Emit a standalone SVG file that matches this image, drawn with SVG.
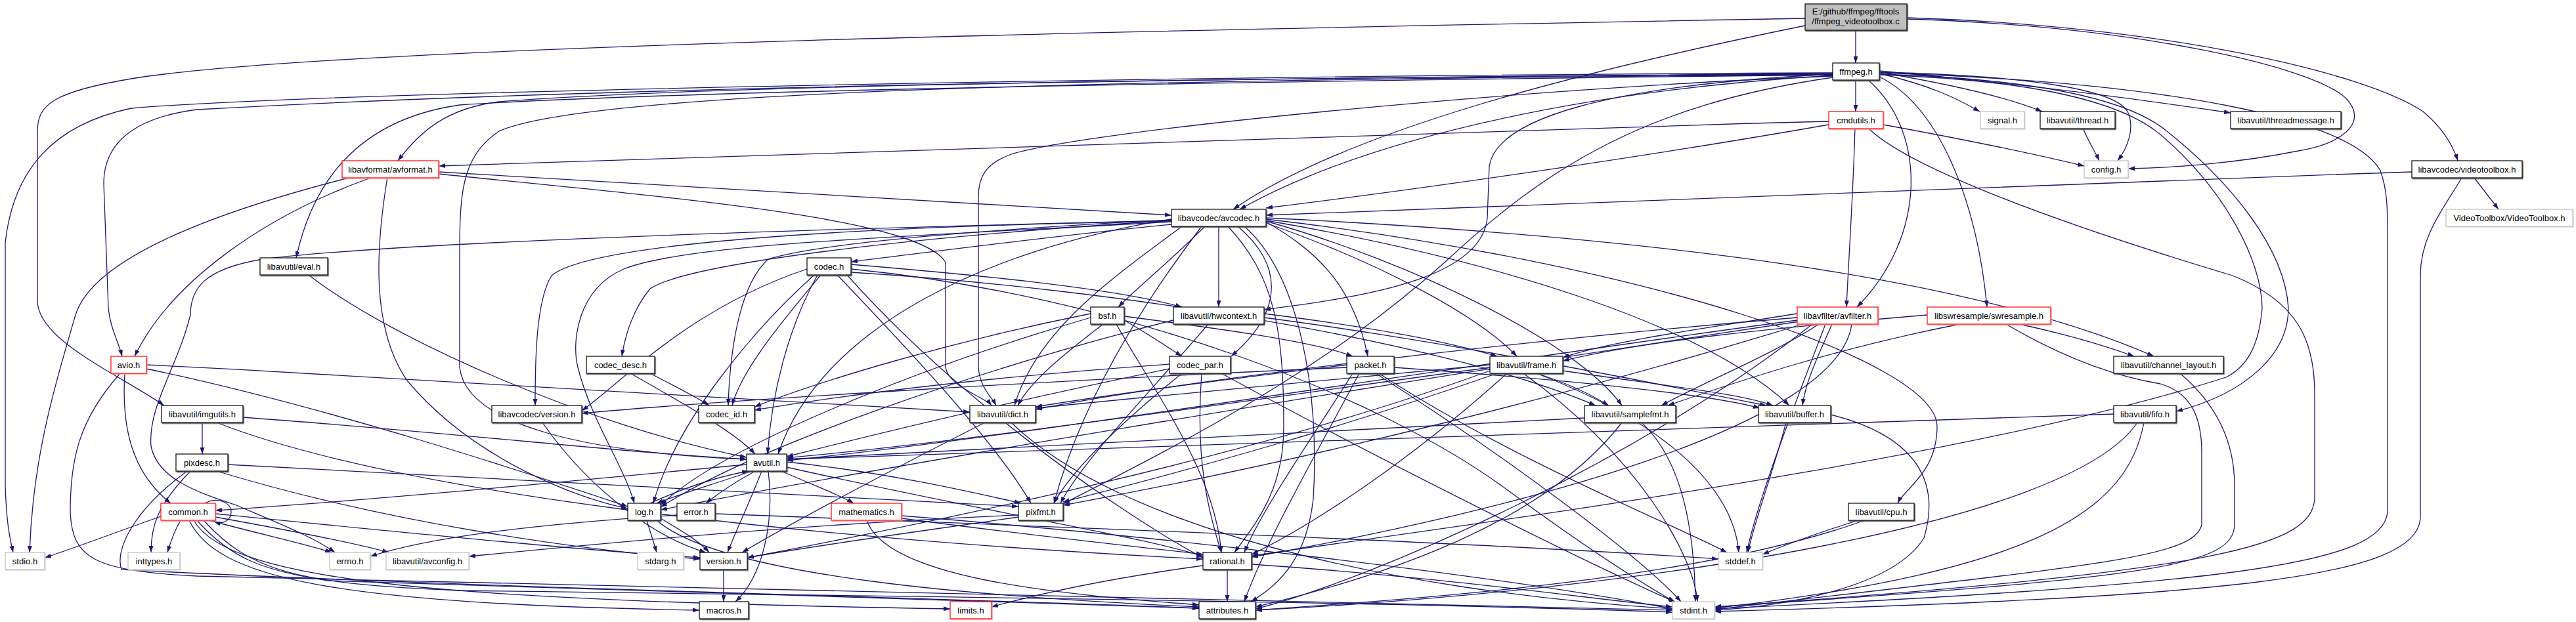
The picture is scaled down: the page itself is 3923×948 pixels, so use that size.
<svg xmlns="http://www.w3.org/2000/svg" width="3923" height="948" viewBox="0 0 3923 948">
<style>
text{font-family:"Liberation Sans",Arial,sans-serif;font-size:13px;text-anchor:middle;fill:#000}
.n rect{fill:#fff;stroke:#000;stroke-width:1.2;filter:url(#sh)}
.r rect{stroke:#ff0000;filter:url(#shr)}
.g rect{stroke:#bfbfbf;filter:url(#shg)}
.s rect{fill:#bfbfbf}
#edges path{fill:none;stroke:#191970;stroke-width:1.3;marker-end:url(#ah)}
</style>
<defs>
<marker id="ah" viewBox="0 0 10 7" refX="10" refY="3.5" markerWidth="10" markerHeight="7" markerUnits="userSpaceOnUse" orient="auto"><path d="M0,0L10,3.5L0,7z" fill="#191970"/></marker>
<filter id="sh" x="-5%" y="-10%" width="115%" height="140%"><feDropShadow dx="1.2" dy="1.5" stdDeviation="0" flood-color="#555"/></filter>
<filter id="shr" x="-5%" y="-10%" width="115%" height="140%"><feDropShadow dx="1" dy="1.2" stdDeviation="0" flood-color="#ff8080"/></filter>
<filter id="shg" x="-5%" y="-10%" width="115%" height="140%"><feDropShadow dx="1" dy="1.2" stdDeviation="0" flood-color="#d8d8d8"/></filter>
</defs>
<rect width="3923" height="948" fill="#fff"/>
<g id="edges">
<path d="M2826 46L2826 96"/>
<path d="M2904 29C3250 40 3520 100 3573 150C3610 190 3560 220 3500 230C3400 250 3300 256 3241 257"/>
<path d="M2904 27C3300 40 3600 110 3690 170C3720 195 3735 220 3743 245"/>
<path d="M2749 39C2400 110 2050 200 1878 319"/>
<path d="M2749 28C1800 45 500 70 200 120C80 140 57 160 57 200L57 460C60 520 180 570 250 618"/>
<path d="M2826 121L2826 170"/>
<path d="M2862 112C2940 130 2980 150 3015 170"/>
<path d="M2862 110C2950 125 3050 145 3110 170"/>
<path d="M2862 108C3050 125 3250 150 3397 172"/>
<path d="M2862 110C3080 115 3220 135 3240 170C3252 195 3240 225 3225 245"/>
<path d="M2791 112C2000 118 1100 128 760 155C680 165 640 200 606 245"/>
<path d="M2791 113C2000 118 1000 128 300 167C200 180 158 220 158 280L165 470C168 500 180 520 186 543"/>
<path d="M2791 115C2450 135 2100 200 1888 319"/>
<path d="M2844 121C2935 200 2935 360 2828 468"/>
<path d="M2791 114C1800 120 900 135 760 200C700 240 700 300 700 400L700 560C710 650 900 690 1137 700"/>
<path d="M2791 116C2300 135 1650 200 1540 235C1500 250 1490 270 1490 300L1490 560C1492 590 1510 605 1517 618"/>
<path d="M2791 114C1800 125 1000 140 700 160C560 180 480 260 451 393"/>
<path d="M2862 113C3100 120 3240 150 3300 200C3400 280 3480 380 3485 470C3485 540 3420 600 3314 627"/>
<path d="M2791 113C2450 130 2280 180 2268 253L2265 333C2255 420 2100 450 1925 472"/>
<path d="M2791 118C2500 160 2350 260 2200 400C2000 580 1750 700 1619 768"/>
<path d="M2862 114C3100 122 3230 155 3290 205C3390 290 3445 400 3445 470C3440 530 3420 560 3390 575C3000 700 2300 790 1906 847"/>
<path d="M2862 117C2950 160 3010 300 3026 468"/>
<path d="M2862 111C3300 125 3580 180 3625 260C3636 290 3636 320 3636 360L3636 780C3630 860 3400 890 2611 928"/>
<path d="M2791 111C1800 115 500 140 200 165C80 190 20 260 8 370L8 740C10 800 15 820 20 842"/>
<path d="M2868 190C2950 205 3080 230 3174 253"/>
<path d="M2785 185C2000 205 1200 230 668 253"/>
<path d="M2785 190C2500 240 2150 290 1928 317"/>
<path d="M2825 195C2822 300 2815 400 2812 468"/>
<path d="M2845 195C2900 250 3100 330 3400 420C3500 460 3525 520 3525 600L3525 760C3520 830 3400 870 2611 925"/>
<path d="M3172 195C3180 215 3190 230 3197 245"/>
<path d="M668 262C1100 290 1500 310 1784 328"/>
<path d="M567 270C400 330 260 430 205 543"/>
<path d="M668 265C1000 300 1400 330 1440 400L1440 560C1445 590 1500 605 1510 618"/>
<path d="M590 270C572 380 565 500 620 580C720 700 880 760 956 775"/>
<path d="M535 270C300 330 140 400 115 480C80 600 50 700 45 842"/>
<path d="M3673 262C3000 285 2300 310 1928 328"/>
<path d="M3768 271L3805 319"/>
<path d="M3749 271C3720 320 3686 360 3686 420L3686 790C3680 880 3400 910 2611 932"/>
<path d="M1784 336C1200 350 600 370 400 395C310 410 290 440 290 480C270 560 225 620 230 680C240 730 300 750 360 770C430 800 480 820 510 842"/>
<path d="M1928 337C2150 400 2400 520 2470 618"/>
<path d="M1895 345C1980 420 2010 600 2000 760C1990 850 1950 890 1905 917"/>
<path d="M1784 334C1500 380 1250 500 1185 692"/>
<path d="M1928 336C2300 400 2600 500 2725 618"/>
<path d="M1928 334C2500 400 2950 550 2950 650C2950 720 2900 745 2890 767"/>
<path d="M1928 332C2500 360 3000 420 3280 543"/>
<path d="M1800 345C1700 420 1580 500 1545 618"/>
<path d="M1928 340C2100 400 2250 480 2310 543"/>
<path d="M1856 345L1856 468"/>
<path d="M1784 338C1400 360 1050 370 950 410C880 440 870 520 880 560C900 640 950 710 966 767"/>
<path d="M1830 345C1750 450 1650 600 1605 767"/>
<path d="M1870 345C1940 420 1955 500 1955 650C1955 750 1910 800 1880 842"/>
<path d="M1835 345C1780 400 1730 440 1703 468"/>
<path d="M1784 342C1600 360 1450 380 1296 399"/>
<path d="M1784 336C1400 360 1050 400 990 440C965 470 952 510 947 543"/>
<path d="M1885 345C1950 400 1960 470 1875 543"/>
<path d="M1784 335C1500 350 1250 370 1170 395C1130 430 1112 520 1109 618"/>
<path d="M1928 338C2000 380 2060 430 2083 543"/>
<path d="M1784 337C1300 345 900 370 840 420C815 460 815 560 815 618"/>
<path d="M470 419C600 520 900 650 1137 697"/>
<path d="M1296 410C1700 450 2100 600 2300 750C2450 860 2520 900 2550 917"/>
<path d="M1245 419C1200 500 1175 600 1169 692"/>
<path d="M1296 403C1500 420 1700 440 1800 468"/>
<path d="M1240 419C1150 500 1030 640 995 767"/>
<path d="M1275 419C1400 550 1520 680 1570 767"/>
<path d="M1290 419C1450 600 1700 780 1832 850"/>
<path d="M1296 415C1700 440 2200 520 2430 618"/>
<path d="M1250 419C1200 480 1130 560 1115 618"/>
<path d="M1229 410C1050 470 950 580 886 626"/>
<path d="M1680 494C1620 540 1570 580 1550 618"/>
<path d="M1661 484C1400 560 1100 680 1006 770"/>
<path d="M1700 494C1760 600 1850 720 1860 842"/>
<path d="M1661 478C1450 520 1250 580 1149 620"/>
<path d="M1712 488C1750 510 1780 530 1800 543"/>
<path d="M1712 482C1850 500 2000 520 2060 543"/>
<path d="M1925 484C2200 520 2500 580 2690 618"/>
<path d="M1925 478C2100 500 2200 520 2280 543"/>
<path d="M1787 488C1500 560 1150 680 1006 773"/>
<path d="M1840 494C1750 600 1650 700 1615 767"/>
<path d="M2780 494C2740 600 2680 750 2660 842"/>
<path d="M2760 494C2500 700 2100 880 1912 928"/>
<path d="M2737 488C2200 560 1600 660 1198 702"/>
<path d="M2790 494C2770 540 2750 580 2745 618"/>
<path d="M2737 484C2300 520 1800 580 1577 624"/>
<path d="M2737 478C2600 500 2450 520 2380 545"/>
<path d="M2740 490C2000 600 1300 720 1006 777"/>
<path d="M2770 494C2700 540 2600 580 2530 618"/>
<path d="M2745 494C2400 600 2000 700 1619 770"/>
<path d="M2820 494C2800 650 2300 780 1906 849"/>
<path d="M3055 494C3150 550 3230 575 3290 585C3340 600 3353 640 3353 690L3353 800C3340 850 3200 860 2611 929"/>
<path d="M3075 494C3150 510 3200 525 3250 543"/>
<path d="M2935 480C2700 500 2500 520 2380 550"/>
<path d="M2985 494C2800 530 2650 580 2540 618"/>
<path d="M183 569C120 640 107 700 107 780C110 850 140 870 300 878C1200 900 2000 915 2547 930"/>
<path d="M190 569C185 650 200 720 260 767"/>
<path d="M223 556C700 580 1200 610 1477 628"/>
<path d="M223 562C500 620 800 720 956 772"/>
<path d="M960 569C1050 620 1120 660 1150 692"/>
<path d="M990 569C1030 590 1060 605 1080 618"/>
<path d="M1860 569C2100 700 2400 850 2552 918"/>
<path d="M1781 562C1500 620 1300 670 1198 696"/>
<path d="M1830 569C1820 700 1840 780 1860 842"/>
<path d="M1800 569C1700 650 1630 720 1605 767"/>
<path d="M1781 555C1500 575 1300 600 1149 625"/>
<path d="M2100 569C2300 700 2550 800 2630 842"/>
<path d="M2095 569C2300 700 2500 850 2560 917"/>
<path d="M2070 569C2000 700 1930 820 1895 917"/>
<path d="M2123 560C2400 580 2600 600 2680 622"/>
<path d="M2051 556C1850 580 1700 600 1577 620"/>
<path d="M2060 569C1990 680 1920 780 1895 842"/>
<path d="M2051 560C1600 580 1100 610 886 630"/>
<path d="M2340 569C2550 650 2640 750 2648 842"/>
<path d="M2320 569C2500 700 2580 850 2585 917"/>
<path d="M2269 560C1900 610 1500 670 1198 698"/>
<path d="M2380 565C2550 590 2650 600 2700 618"/>
<path d="M2269 556C2000 580 1800 600 1577 622"/>
<path d="M2295 569C2150 700 2000 800 1906 845"/>
<path d="M2340 569C2390 585 2420 600 2450 618"/>
<path d="M2280 569C2050 650 1800 720 1619 765"/>
<path d="M2269 565C1900 700 1400 800 1138 850"/>
<path d="M3320 569C3380 620 3403 680 3403 740L3403 800C3400 860 3300 880 2611 925"/>
<path d="M308 644L308 692"/>
<path d="M370 636C700 660 950 690 1137 700"/>
<path d="M330 644C600 750 1200 820 1832 852"/>
<path d="M826 644C900 750 1000 820 1075 842"/>
<path d="M1540 644C1700 800 2100 900 2547 928"/>
<path d="M1500 644C1350 720 1200 800 1130 842"/>
<path d="M2500 644C2560 700 2580 800 2582 917"/>
<path d="M2413 637C1900 660 1500 685 1198 700"/>
<path d="M2470 644C2350 800 2100 880 1912 925"/>
<path d="M2720 644C2700 720 2670 800 2662 842"/>
<path d="M2788 632C2900 660 2960 720 2930 820C2880 900 2700 925 2611 930"/>
<path d="M3265 644C3240 780 3100 870 2611 927"/>
<path d="M3219 631C2500 650 1800 680 1198 700"/>
<path d="M3255 644C3150 800 2500 900 1912 930"/>
<path d="M290 718C240 770 230 800 230 842"/>
<path d="M285 718C200 780 175 840 185 868C700 895 1400 910 1826 927"/>
<path d="M347 708C800 730 1200 750 1551 772"/>
<path d="M330 718C600 800 900 840 1066 852"/>
<path d="M1137 708C900 730 600 760 328 778"/>
<path d="M1150 718C1110 740 1090 755 1075 767"/>
<path d="M1198 712C1500 780 1750 820 1832 848"/>
<path d="M1160 718C1140 770 1120 810 1108 842"/>
<path d="M1170 718C1180 800 1160 880 1120 917"/>
<path d="M1190 718C1240 740 1280 755 1300 767"/>
<path d="M1145 718C1080 740 1030 755 1000 767"/>
<path d="M1198 704C1350 720 1480 750 1555 767"/>
<path d="M245 787C180 810 100 840 68 850"/>
<path d="M275 793C265 810 260 825 255 842"/>
<path d="M318 793C400 815 470 830 505 842"/>
<path d="M328 788C450 810 550 830 592 842"/>
<path d="M300 793C350 850 400 870 500 885C1000 905 1500 915 1826 927"/>
<path d="M288 793C330 880 500 920 1065 930"/>
<path d="M328 783C600 810 900 840 1066 850"/>
<path d="M295 793C350 890 700 915 1447 928"/>
<path d="M310 793C380 870 450 890 700 900C1500 910 2200 920 2547 933"/>
<path d="M312 767C330 757 352 765 352 780C352 793 340 800 326 795"/>
<path d="M985 793C990 810 995 825 1000 842"/>
<path d="M990 767C1050 740 1100 725 1140 718"/>
<path d="M1000 793C1100 880 1500 910 1826 925"/>
<path d="M1006 790C1040 810 1065 825 1080 842"/>
<path d="M1031 785C800 800 650 820 564 848"/>
<path d="M1089 783C1800 810 2300 830 2617 852"/>
<path d="M1373 786C1800 820 2300 880 2547 928"/>
<path d="M1320 793C1350 880 1600 905 1826 922"/>
<path d="M1373 790C1600 820 1750 835 1832 845"/>
<path d="M1551 785C1200 800 900 830 714 848"/>
<path d="M1551 788C1400 810 1250 830 1138 850"/>
<path d="M2830 793C2760 815 2720 830 2684 845"/>
<path d="M2840 793C2600 880 2200 910 1912 930"/>
<path d="M1102 868L1102 917"/>
<path d="M1906 860C2200 880 2400 910 2547 925"/>
<path d="M1832 862C1700 880 1600 900 1510 925"/>
<path d="M1869 868L1869 917"/>
</g>
<g id="n_src" class="n s"><rect x="2749" y="6" width="155" height="40"/><text x="2826" y="22">E:/github/ffmpeg/fftools</text><text x="2826" y="37">/ffmpeg_videotoolbox.c</text></g>
<g id="n_ffmpeg" class="n"><rect x="2791" y="96" width="71" height="26"/><text x="2826.5" y="113.5">ffmpeg.h</text></g>
<g id="n_cmdutils" class="n r"><rect x="2785" y="170" width="83" height="26"/><text x="2826.5" y="187.5">cmdutils.h</text></g>
<g id="n_signal" class="n g"><rect x="3016" y="170" width="67" height="26"/><text x="3049.5" y="187.5">signal.h</text></g>
<g id="n_thread" class="n"><rect x="3107" y="170" width="114" height="26"/><text x="3164" y="187.5">libavutil/thread.h</text></g>
<g id="n_threadmessage" class="n"><rect x="3397" y="170" width="168" height="26"/><text x="3481" y="187.5">libavutil/threadmessage.h</text></g>
<g id="n_avformat" class="n r"><rect x="521" y="245" width="147" height="26"/><text x="594.5" y="262.5">libavformat/avformat.h</text></g>
<g id="n_config" class="n g"><rect x="3174" y="245" width="67" height="26"/><text x="3207.5" y="262.5">config.h</text></g>
<g id="n_videotoolbox" class="n"><rect x="3673" y="245" width="168" height="26"/><text x="3757" y="262.5">libavcodec/videotoolbox.h</text></g>
<g id="n_avcodec" class="n"><rect x="1784" y="319" width="144" height="26"/><text x="1856" y="336.5">libavcodec/avcodec.h</text></g>
<g id="n_VideoToolbox" class="n g"><rect x="3725" y="319" width="193" height="26"/><text x="3821.5" y="336.5">VideoToolbox/VideoToolbox.h</text></g>
<g id="n_eval" class="n"><rect x="396" y="393" width="103" height="26"/><text x="447.5" y="410.5">libavutil/eval.h</text></g>
<g id="n_codec" class="n"><rect x="1229" y="393" width="67" height="26"/><text x="1262.5" y="410.5">codec.h</text></g>
<g id="n_bsf" class="n"><rect x="1661" y="468" width="51" height="26"/><text x="1686.5" y="485.5">bsf.h</text></g>
<g id="n_hwcontext" class="n"><rect x="1787" y="468" width="138" height="26"/><text x="1856" y="485.5">libavutil/hwcontext.h</text></g>
<g id="n_avfilter" class="n r"><rect x="2737" y="468" width="123" height="26"/><text x="2798.5" y="485.5">libavfilter/avfilter.h</text></g>
<g id="n_swresample" class="n r"><rect x="2935" y="468" width="188" height="26"/><text x="3029" y="485.5">libswresample/swresample.h</text></g>
<g id="n_avio" class="n r"><rect x="169" y="543" width="54" height="26"/><text x="196" y="560.5">avio.h</text></g>
<g id="n_codec_desc" class="n"><rect x="893" y="543" width="104" height="26"/><text x="945" y="560.5">codec_desc.h</text></g>
<g id="n_codec_par" class="n"><rect x="1781" y="543" width="93" height="26"/><text x="1827.5" y="560.5">codec_par.h</text></g>
<g id="n_packet" class="n"><rect x="2051" y="543" width="72" height="26"/><text x="2087" y="560.5">packet.h</text></g>
<g id="n_frame" class="n"><rect x="2269" y="543" width="111" height="26"/><text x="2324.5" y="560.5">libavutil/frame.h</text></g>
<g id="n_channel_layout" class="n"><rect x="3219" y="543" width="167" height="26"/><text x="3302.5" y="560.5">libavutil/channel_layout.h</text></g>
<g id="n_imgutils" class="n"><rect x="246" y="618" width="124" height="26"/><text x="308" y="635.5">libavutil/imgutils.h</text></g>
<g id="n_lavc_version" class="n"><rect x="749" y="618" width="137" height="26"/><text x="817.5" y="635.5">libavcodec/version.h</text></g>
<g id="n_codec_id" class="n"><rect x="1064" y="618" width="85" height="26"/><text x="1106.5" y="635.5">codec_id.h</text></g>
<g id="n_dict" class="n"><rect x="1477" y="618" width="100" height="26"/><text x="1527" y="635.5">libavutil/dict.h</text></g>
<g id="n_samplefmt" class="n"><rect x="2413" y="618" width="139" height="26"/><text x="2482.5" y="635.5">libavutil/samplefmt.h</text></g>
<g id="n_buffer" class="n"><rect x="2678" y="618" width="110" height="26"/><text x="2733" y="635.5">libavutil/buffer.h</text></g>
<g id="n_fifo" class="n"><rect x="3219" y="618" width="95" height="26"/><text x="3266.5" y="635.5">libavutil/fifo.h</text></g>
<g id="n_pixdesc" class="n"><rect x="268" y="692" width="79" height="26"/><text x="307.5" y="709.5">pixdesc.h</text></g>
<g id="n_avutil" class="n"><rect x="1137" y="692" width="61" height="26"/><text x="1167.5" y="709.5">avutil.h</text></g>
<g id="n_common" class="n r"><rect x="245" y="767" width="83" height="26"/><text x="286.5" y="784.5">common.h</text></g>
<g id="n_log" class="n"><rect x="956" y="767" width="50" height="26"/><text x="981" y="784.5">log.h</text></g>
<g id="n_error" class="n"><rect x="1031" y="767" width="58" height="26"/><text x="1060" y="784.5">error.h</text></g>
<g id="n_mathematics" class="n r"><rect x="1266" y="767" width="107" height="26"/><text x="1319.5" y="784.5">mathematics.h</text></g>
<g id="n_pixfmt" class="n"><rect x="1551" y="767" width="68" height="26"/><text x="1585" y="784.5">pixfmt.h</text></g>
<g id="n_cpu" class="n"><rect x="2815" y="767" width="100" height="26"/><text x="2865" y="784.5">libavutil/cpu.h</text></g>
<g id="n_stdio" class="n g"><rect x="8" y="842" width="60" height="26"/><text x="38" y="859.5">stdio.h</text></g>
<g id="n_inttypes" class="n g"><rect x="195" y="842" width="79" height="26"/><text x="234.5" y="859.5">inttypes.h</text></g>
<g id="n_errno" class="n g"><rect x="502" y="842" width="62" height="26"/><text x="533" y="859.5">errno.h</text></g>
<g id="n_avconfig" class="n g"><rect x="588" y="842" width="126" height="26"/><text x="651" y="859.5">libavutil/avconfig.h</text></g>
<g id="n_stdarg" class="n g"><rect x="971" y="842" width="70" height="26"/><text x="1006" y="859.5">stdarg.h</text></g>
<g id="n_version" class="n"><rect x="1066" y="842" width="72" height="26"/><text x="1102" y="859.5">version.h</text></g>
<g id="n_rational" class="n"><rect x="1832" y="842" width="74" height="26"/><text x="1869" y="859.5">rational.h</text></g>
<g id="n_stddef" class="n g"><rect x="2617" y="842" width="67" height="26"/><text x="2650.5" y="859.5">stddef.h</text></g>
<g id="n_macros" class="n"><rect x="1065" y="917" width="75" height="26"/><text x="1102.5" y="934.5">macros.h</text></g>
<g id="n_limits" class="n r"><rect x="1447" y="917" width="63" height="26"/><text x="1478.5" y="934.5">limits.h</text></g>
<g id="n_attributes" class="n"><rect x="1826" y="917" width="86" height="26"/><text x="1869" y="934.5">attributes.h</text></g>
<g id="n_stdint" class="n g"><rect x="2547" y="917" width="64" height="26"/><text x="2579" y="934.5">stdint.h</text></g>
</svg>
